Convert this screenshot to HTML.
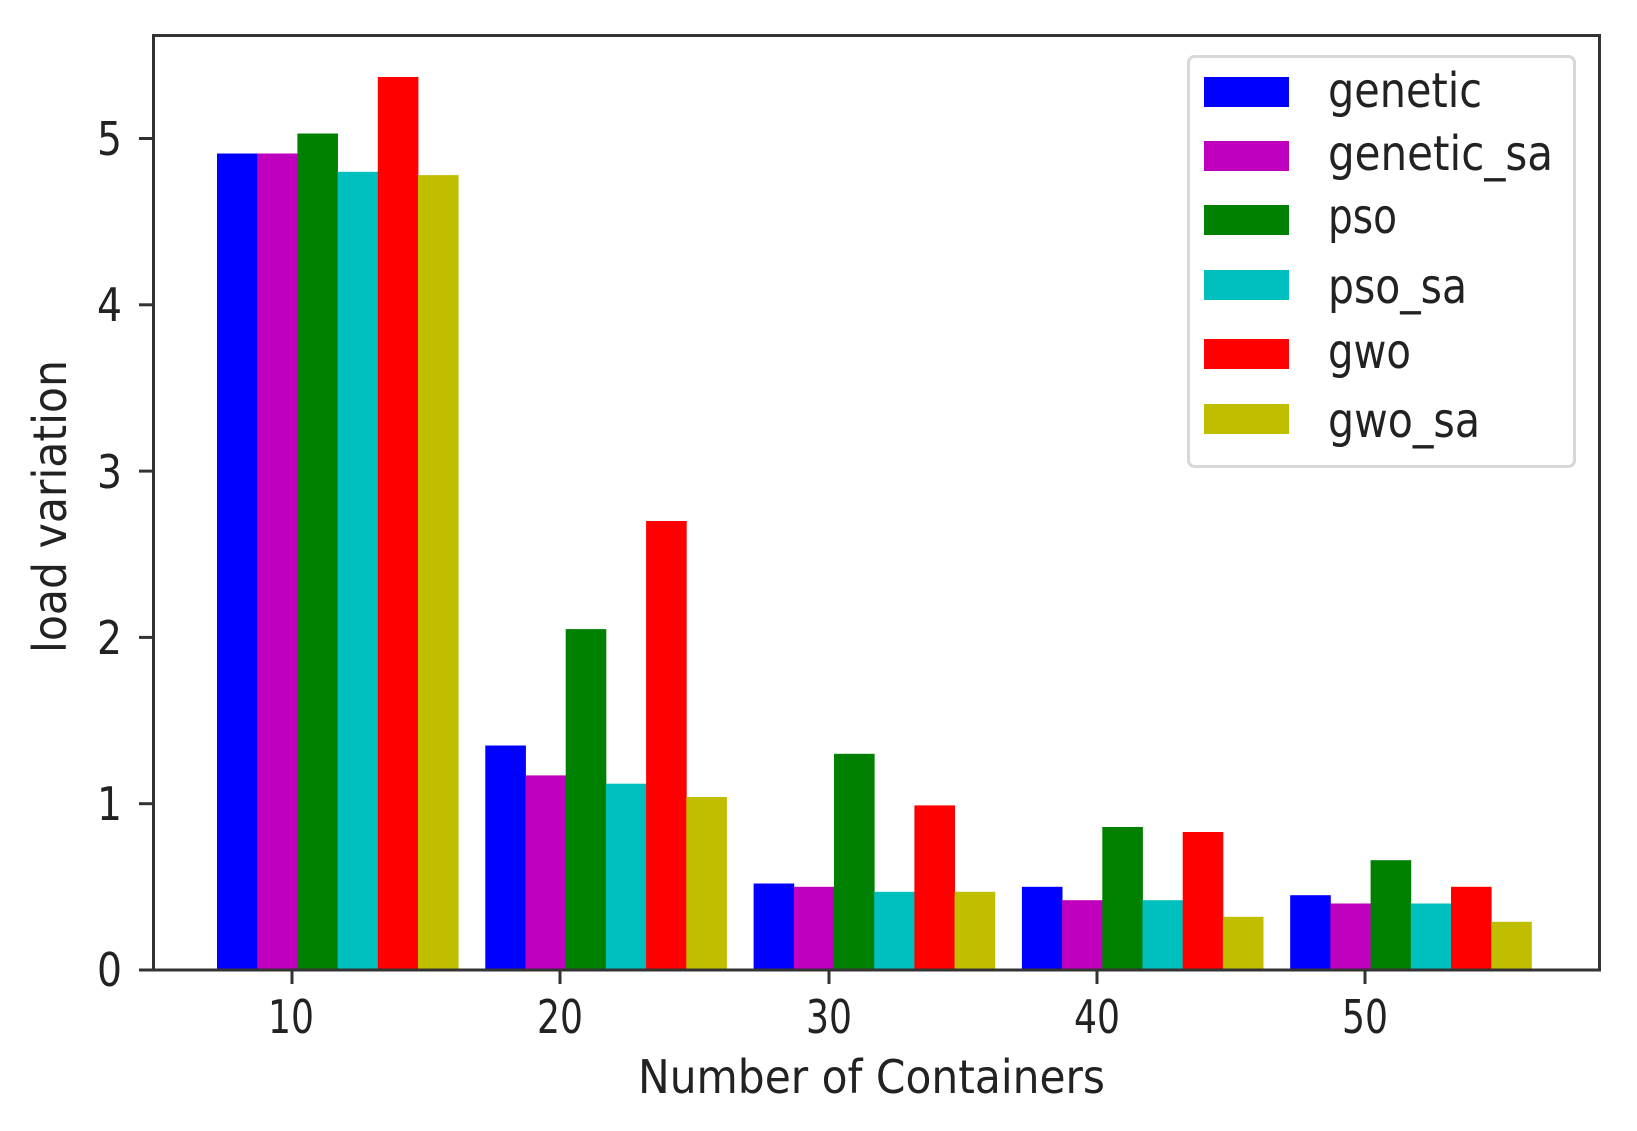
<!DOCTYPE html>
<html><head><meta charset="utf-8"><style>body{margin:0;background:#fff}svg{display:block}text{font-family:"DejaVu Sans","Liberation Sans",sans-serif;fill:#222}</style></head>
<body>
<svg width="1637" height="1131" viewBox="0 0 1637 1131" xmlns="http://www.w3.org/2000/svg">
<g>
<rect x="217" y="153.5" width="40.6" height="816.5" fill="#0000ff"/>
<rect x="257.2" y="153.5" width="40.6" height="816.5" fill="#bf00bf"/>
<rect x="297.4" y="133.5" width="40.6" height="836.5" fill="#008000"/>
<rect x="337.6" y="171.8" width="40.6" height="798.2" fill="#00bfbf"/>
<rect x="377.8" y="77" width="40.6" height="893" fill="#ff0000"/>
<rect x="418" y="175.1" width="40.6" height="794.9" fill="#bfbf00"/>

<rect x="485.3" y="745.5" width="40.6" height="224.5" fill="#0000ff"/>
<rect x="525.5" y="775.4" width="40.6" height="194.6" fill="#bf00bf"/>
<rect x="565.7" y="629.1" width="40.6" height="340.9" fill="#008000"/>
<rect x="605.9" y="783.7" width="40.6" height="186.3" fill="#00bfbf"/>
<rect x="646.1" y="521" width="40.6" height="449" fill="#ff0000"/>
<rect x="686.3" y="797" width="40.6" height="173" fill="#bfbf00"/>

<rect x="753.6" y="883.5" width="40.6" height="86.5" fill="#0000ff"/>
<rect x="793.8" y="886.8" width="40.6" height="83.2" fill="#bf00bf"/>
<rect x="834" y="753.8" width="40.6" height="216.2" fill="#008000"/>
<rect x="874.2" y="891.8" width="40.6" height="78.2" fill="#00bfbf"/>
<rect x="914.4" y="805.4" width="40.6" height="164.6" fill="#ff0000"/>
<rect x="954.6" y="891.8" width="40.6" height="78.2" fill="#bfbf00"/>

<rect x="1021.9" y="886.8" width="40.6" height="83.2" fill="#0000ff"/>
<rect x="1062.1" y="900.2" width="40.6" height="69.8" fill="#bf00bf"/>
<rect x="1102.3" y="827" width="40.6" height="143" fill="#008000"/>
<rect x="1142.5" y="900.2" width="40.6" height="69.8" fill="#00bfbf"/>
<rect x="1182.7" y="832" width="40.6" height="138" fill="#ff0000"/>
<rect x="1222.9" y="916.8" width="40.6" height="53.2" fill="#bfbf00"/>

<rect x="1290.2" y="895.2" width="40.6" height="74.8" fill="#0000ff"/>
<rect x="1330.4" y="903.5" width="40.6" height="66.5" fill="#bf00bf"/>
<rect x="1370.6" y="860.2" width="40.6" height="109.8" fill="#008000"/>
<rect x="1410.8" y="903.5" width="40.6" height="66.5" fill="#00bfbf"/>
<rect x="1451" y="886.8" width="40.6" height="83.2" fill="#ff0000"/>
<rect x="1491.2" y="921.8" width="40.6" height="48.2" fill="#bfbf00"/>
</g>
<rect x="153.5" y="35.5" width="1446" height="934.5" fill="none" stroke="#333" stroke-width="3"/>
<g stroke="#333" stroke-width="3">
<line x1="139" x2="153" y1="970" y2="970"/><line x1="139" x2="153" y1="803.7" y2="803.7"/><line x1="139" x2="153" y1="637.4" y2="637.4"/><line x1="139" x2="153" y1="471.1" y2="471.1"/><line x1="139" x2="153" y1="304.8" y2="304.8"/><line x1="139" x2="153" y1="138.5" y2="138.5"/>
<line x1="292" x2="292" y1="970" y2="984"/><line x1="560" x2="560" y1="970" y2="984"/><line x1="829" x2="829" y1="970" y2="984"/><line x1="1097" x2="1097" y1="970" y2="984"/><line x1="1365" x2="1365" y1="970" y2="984"/>
</g>
<g font-size="46" text-anchor="end">
<text x="122" y="986" textLength="25" lengthAdjust="spacingAndGlyphs">0</text>
<text x="122" y="820" textLength="25" lengthAdjust="spacingAndGlyphs">1</text>
<text x="122" y="654" textLength="25" lengthAdjust="spacingAndGlyphs">2</text>
<text x="122" y="488" textLength="25" lengthAdjust="spacingAndGlyphs">3</text>
<text x="122" y="321" textLength="25" lengthAdjust="spacingAndGlyphs">4</text>
<text x="122" y="155" textLength="25" lengthAdjust="spacingAndGlyphs">5</text>
</g>
<g font-size="46">
<text x="268" y="1033" textLength="46" lengthAdjust="spacingAndGlyphs">10</text>
<text x="537" y="1033" textLength="46" lengthAdjust="spacingAndGlyphs">20</text>
<text x="806" y="1033" textLength="46" lengthAdjust="spacingAndGlyphs">30</text>
<text x="1074" y="1033" textLength="46" lengthAdjust="spacingAndGlyphs">40</text>
<text x="1342" y="1033" textLength="46" lengthAdjust="spacingAndGlyphs">50</text>
<text x="638" y="1093" textLength="467" lengthAdjust="spacingAndGlyphs">Number of Containers</text>
<text transform="translate(66,653) rotate(-90)" textLength="293" lengthAdjust="spacingAndGlyphs">load variation</text>
</g>
<rect x="1188.5" y="56.5" width="386" height="410" rx="6" fill="#fff" stroke="#d8d8d8" stroke-width="3"/>
<rect x="1204" y="77" width="85" height="30" fill="#0000ff"/>
<rect x="1204" y="141" width="85" height="30" fill="#bf00bf"/>
<rect x="1204" y="205" width="85" height="30" fill="#008000"/>
<rect x="1204" y="270" width="85" height="30" fill="#00bfbf"/>
<rect x="1204" y="339" width="85" height="30" fill="#ff0000"/>
<rect x="1204" y="404" width="85" height="30" fill="#bfbf00"/>
<g font-size="48">
<text x="1328" y="107" textLength="154" lengthAdjust="spacingAndGlyphs">genetic</text>
<text x="1328" y="170" textLength="225" lengthAdjust="spacingAndGlyphs">genetic_sa</text>
<text x="1328" y="233" textLength="69" lengthAdjust="spacingAndGlyphs">pso</text>
<text x="1328" y="303" textLength="139" lengthAdjust="spacingAndGlyphs">pso_sa</text>
<text x="1328" y="368" textLength="83" lengthAdjust="spacingAndGlyphs">gwo</text>
<text x="1328" y="437" textLength="152" lengthAdjust="spacingAndGlyphs">gwo_sa</text>
</g>
</svg>
</body></html>
